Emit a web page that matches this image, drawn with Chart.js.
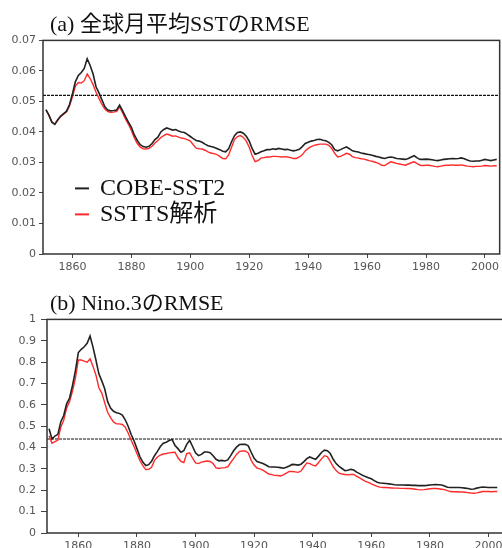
<!DOCTYPE html>
<html>
<head>
<meta charset="utf-8">
<script src="https://cdn.jsdelivr.net/npm/chart.js@4.4.1/dist/chart.umd.min.js"></script>
<style>
  html, body { margin: 0; padding: 0; background: #fff; overflow: hidden; width: 502px; height: 548px; }
  #wrapA { position: absolute; left: 0; top: 0; width: 502px; height: 280px; }
  #wrapB { position: absolute; left: 0; top: 279px; width: 502px; height: 280px; overflow: hidden; }
  canvas { display: block; }
</style>
</head>
<body>
<div id="wrapA"><canvas id="chartA" width="502" height="280"></canvas></div>
<div id="wrapB"><canvas id="chartB" width="506" height="280"></canvas></div>
<script>
// ---- data (a) global monthly mean SST RMSE ----
const titleA = "(a) 全球月平均SSTのRMSE";
const yearsA = [
  1851, 1852, 1853, 1854, 1855, 1856, 1857, 1858, 1859, 1860,
  1861, 1862, 1863, 1864, 1865, 1866, 1867, 1868, 1869, 1870,
  1871, 1872, 1873, 1874, 1875, 1876, 1877, 1878, 1879, 1880,
  1881, 1882, 1883, 1884, 1885, 1886, 1887, 1888, 1889, 1890,
  1891, 1892, 1893, 1894, 1895, 1896, 1897, 1898, 1899, 1900,
  1901, 1902, 1903, 1904, 1905, 1906, 1907, 1908, 1909, 1910,
  1911, 1912, 1913, 1914, 1915, 1916, 1917, 1918, 1919, 1920,
  1921, 1922, 1923, 1924, 1925, 1926, 1927, 1928, 1929, 1930,
  1931, 1932, 1933, 1934, 1935, 1936, 1937, 1938, 1939, 1940,
  1941, 1942, 1943, 1944, 1945, 1946, 1947, 1948, 1949, 1950,
  1951, 1952, 1953, 1954, 1955, 1956, 1957, 1958, 1959, 1960,
  1961, 1962, 1963, 1964, 1965, 1966, 1967, 1968, 1969, 1970,
  1971, 1972, 1973, 1974, 1975, 1976, 1977, 1978, 1979, 1980,
  1981, 1982, 1983, 1984, 1985, 1986, 1987, 1988, 1989, 1990,
  1991, 1992, 1993, 1994, 1995, 1996, 1997, 1998, 1999, 2000,
  2001, 2002, 2003, 2004,
];
const cobeA = [
  0.0473, 0.0455, 0.0432, 0.0425, 0.0440, 0.0452, 0.0460, 0.0468, 0.0490, 0.0525,
  0.0565, 0.0585, 0.0595, 0.0608, 0.0640, 0.0618, 0.0590, 0.0548, 0.0528, 0.0505,
  0.0482, 0.0472, 0.0469, 0.0470, 0.0472, 0.0488, 0.0470, 0.0450, 0.0432, 0.0415,
  0.0390, 0.0372, 0.0358, 0.0352, 0.0350, 0.0353, 0.0362, 0.0375, 0.0383, 0.0400,
  0.0408, 0.0413, 0.0410, 0.0406, 0.0408, 0.0403, 0.0400, 0.0398, 0.0392, 0.0385,
  0.0378, 0.0372, 0.0370, 0.0366, 0.0360, 0.0355, 0.0352, 0.0350, 0.0346, 0.0342,
  0.0337, 0.0335, 0.0345, 0.0368, 0.0388, 0.0398, 0.0400, 0.0396, 0.0386, 0.0370,
  0.0345, 0.0327, 0.0330, 0.0335, 0.0338, 0.0342, 0.0342, 0.0345, 0.0343, 0.0346,
  0.0344, 0.0342, 0.0343, 0.0340, 0.0338, 0.0340, 0.0343, 0.0352, 0.0362, 0.0366,
  0.0370, 0.0372, 0.0375, 0.0376, 0.0373, 0.0371, 0.0366, 0.0358, 0.0342, 0.0338,
  0.0342, 0.0347, 0.0351, 0.0345, 0.0338, 0.0336, 0.0334, 0.0331, 0.0329, 0.0327,
  0.0325, 0.0323, 0.0320, 0.0318, 0.0315, 0.0313, 0.0316, 0.0318, 0.0316, 0.0313,
  0.0312, 0.0311, 0.0310, 0.0313, 0.0318, 0.0322, 0.0315, 0.0310, 0.0310, 0.0311,
  0.0310, 0.0309, 0.0307, 0.0306, 0.0308, 0.0310, 0.0311, 0.0312, 0.0313, 0.0312,
  0.0313, 0.0315, 0.0312, 0.0308, 0.0305, 0.0304, 0.0305, 0.0305, 0.0307, 0.0310,
  0.0308, 0.0306, 0.0308, 0.0310,
];
const ssttsA = [
  0.0472, 0.0455, 0.0433, 0.0426, 0.0438, 0.0450, 0.0458, 0.0466, 0.0485, 0.0515,
  0.0550, 0.0562, 0.0560, 0.0568, 0.0590, 0.0575, 0.0555, 0.0530, 0.0510, 0.0490,
  0.0475, 0.0467, 0.0464, 0.0465, 0.0467, 0.0482, 0.0463, 0.0443, 0.0425, 0.0405,
  0.0380, 0.0362, 0.0350, 0.0345, 0.0344, 0.0346, 0.0353, 0.0364, 0.0372, 0.0382,
  0.0388, 0.0393, 0.0390, 0.0386, 0.0387, 0.0383, 0.0380, 0.0378, 0.0375, 0.0370,
  0.0358, 0.0347, 0.0345, 0.0344, 0.0340, 0.0335, 0.0331, 0.0329, 0.0326, 0.0320,
  0.0313, 0.0312, 0.0325, 0.0350, 0.0375, 0.0385, 0.0388, 0.0382, 0.0370, 0.0350,
  0.0322, 0.0303, 0.0306, 0.0314, 0.0316, 0.0318, 0.0318, 0.0320, 0.0320, 0.0319,
  0.0318, 0.0319, 0.0318, 0.0316, 0.0313, 0.0313, 0.0318, 0.0325, 0.0338, 0.0346,
  0.0352, 0.0356, 0.0358, 0.0360, 0.0360, 0.0360, 0.0356, 0.0346, 0.0330, 0.0318,
  0.0320, 0.0325, 0.0330, 0.0327, 0.0319, 0.0316, 0.0314, 0.0312, 0.0311, 0.0308,
  0.0305, 0.0303, 0.0300, 0.0296, 0.0291, 0.0290, 0.0296, 0.0302, 0.0300, 0.0297,
  0.0295, 0.0293, 0.0291, 0.0295, 0.0299, 0.0302, 0.0296, 0.0291, 0.0290, 0.0291,
  0.0291, 0.0289, 0.0287, 0.0286, 0.0288, 0.0290, 0.0291, 0.0291, 0.0292, 0.0291,
  0.0291, 0.0292, 0.0290, 0.0288, 0.0287, 0.0286, 0.0287, 0.0287, 0.0288, 0.0290,
  0.0289, 0.0288, 0.0289, 0.0289,
];
const thresholdA = 0.052;
const yTicksA = [0, 0.01, 0.02, 0.03, 0.04, 0.05, 0.06, 0.07];

// ---- data (b) Nino.3 RMSE ----
const titleB = "(b) Nino.3のRMSE";
const yearsB = [
  1850, 1851, 1852, 1853, 1854, 1855, 1856, 1857, 1858, 1859,
  1860, 1861, 1862, 1863, 1864, 1865, 1866, 1867, 1868, 1869,
  1870, 1871, 1872, 1873, 1874, 1875, 1876, 1877, 1878, 1879,
  1880, 1881, 1882, 1883, 1884, 1885, 1886, 1887, 1888, 1889,
  1890, 1891, 1892, 1893, 1894, 1895, 1896, 1897, 1898, 1899,
  1900, 1901, 1902, 1903, 1904, 1905, 1906, 1907, 1908, 1909,
  1910, 1911, 1912, 1913, 1914, 1915, 1916, 1917, 1918, 1919,
  1920, 1921, 1922, 1923, 1924, 1925, 1926, 1927, 1928, 1929,
  1930, 1931, 1932, 1933, 1934, 1935, 1936, 1937, 1938, 1939,
  1940, 1941, 1942, 1943, 1944, 1945, 1946, 1947, 1948, 1949,
  1950, 1951, 1952, 1953, 1954, 1955, 1956, 1957, 1958, 1959,
  1960, 1961, 1962, 1963, 1964, 1965, 1966, 1967, 1968, 1969,
  1970, 1971, 1972, 1973, 1974, 1975, 1976, 1977, 1978, 1979,
  1980, 1981, 1982, 1983, 1984, 1985, 1986, 1987, 1988, 1989,
  1990, 1991, 1992, 1993, 1994, 1995, 1996, 1997, 1998, 1999,
  2000, 2001, 2002, 2003,
];
const cobeB = [
  0.488, 0.440, 0.454, 0.462, 0.520, 0.550, 0.605, 0.632, 0.690, 0.760,
  0.845, 0.860, 0.872, 0.888, 0.922, 0.870, 0.810, 0.745, 0.712, 0.675,
  0.615, 0.585, 0.570, 0.563, 0.560, 0.552, 0.530, 0.500, 0.462, 0.432,
  0.395, 0.358, 0.332, 0.316, 0.320, 0.336, 0.362, 0.382, 0.405, 0.420,
  0.425, 0.433, 0.438, 0.410, 0.395, 0.378, 0.385, 0.415, 0.434, 0.405,
  0.375, 0.362, 0.368, 0.379, 0.379, 0.376, 0.362, 0.345, 0.338, 0.340,
  0.337, 0.342, 0.362, 0.385, 0.402, 0.414, 0.415, 0.415, 0.408, 0.378,
  0.350, 0.335, 0.330, 0.325, 0.318, 0.310, 0.309, 0.309, 0.308, 0.306,
  0.303, 0.308, 0.314, 0.321, 0.320, 0.318, 0.322, 0.334, 0.348, 0.356,
  0.350, 0.345, 0.360, 0.377, 0.388, 0.385, 0.372, 0.345, 0.325, 0.312,
  0.302, 0.292, 0.294, 0.298, 0.295, 0.285, 0.278, 0.270, 0.264, 0.259,
  0.254, 0.245, 0.238, 0.234, 0.233, 0.232, 0.230, 0.228, 0.226, 0.225,
  0.225, 0.225, 0.224, 0.224, 0.223, 0.223, 0.222, 0.222, 0.222, 0.223,
  0.225, 0.226, 0.227, 0.226, 0.225, 0.220, 0.214, 0.213, 0.213, 0.213,
  0.213, 0.212, 0.210, 0.208, 0.205, 0.206, 0.210, 0.213, 0.215, 0.214,
  0.213, 0.213, 0.213, 0.213,
];
const ssttsB = [
  0.455, 0.420, 0.428, 0.434, 0.495, 0.528, 0.585, 0.615, 0.665, 0.725,
  0.810, 0.810, 0.805, 0.800, 0.815, 0.780, 0.740, 0.680, 0.655, 0.610,
  0.565, 0.540, 0.520, 0.511, 0.511, 0.508, 0.495, 0.468, 0.435, 0.405,
  0.372, 0.340, 0.315, 0.297, 0.298, 0.308, 0.340, 0.356, 0.365, 0.370,
  0.372, 0.375, 0.377, 0.378, 0.352, 0.335, 0.330, 0.372, 0.375, 0.350,
  0.328, 0.325, 0.332, 0.335, 0.337, 0.335, 0.325, 0.305, 0.302, 0.305,
  0.306, 0.310, 0.330, 0.348, 0.368, 0.382, 0.384, 0.384, 0.375, 0.340,
  0.318, 0.304, 0.300, 0.294, 0.285, 0.276, 0.273, 0.270, 0.269, 0.267,
  0.272, 0.280, 0.288, 0.288, 0.286, 0.284, 0.290, 0.310, 0.328, 0.325,
  0.318, 0.314, 0.330, 0.347, 0.362, 0.358, 0.335, 0.310, 0.292, 0.280,
  0.276, 0.274, 0.272, 0.274, 0.274, 0.265, 0.258, 0.250, 0.242, 0.237,
  0.230, 0.224, 0.218, 0.215, 0.213, 0.213, 0.212, 0.211, 0.210, 0.210,
  0.209, 0.209, 0.208, 0.208, 0.207, 0.205, 0.203, 0.202, 0.203, 0.205,
  0.207, 0.208, 0.208, 0.207, 0.205, 0.203, 0.198, 0.194, 0.193, 0.193,
  0.192, 0.192, 0.191, 0.189, 0.187, 0.186, 0.188, 0.191, 0.194, 0.194,
  0.194, 0.193, 0.194, 0.194,
];
const thresholdB = 0.44;
const yTicksB = [0, 0.1, 0.2, 0.3, 0.4, 0.5, 0.6, 0.7, 0.8, 0.9, 1];

const xTickYears = [1860, 1880, 1900, 1920, 1940, 1960, 1980, 2000];
const seriesNames = ["COBE-SST2", "SSTTS解析"];
const seriesColors = ["#222222", "#ff2b2b"];

// box round the plot area
const framePlugin = {
  id: "frame",
  afterDraw(chart) {
    const { ctx, chartArea: a } = chart;
    ctx.save();
    ctx.strokeStyle = "#333";
    ctx.lineWidth = 1.5;
    ctx.strokeRect(a.left, a.top, a.right - a.left, a.bottom - a.top);
    ctx.restore();
  },
};

// title sits a little right of the plot's left edge
const titleShift = {
  id: "titleShift",
  afterLayout(chart, args, opts) {
    const dx = opts.dx || 0;
    if (chart.titleBlock) {
      chart.titleBlock.left += dx;
      chart.titleBlock.right += dx;
    }
  },
};

// legend drawn inside the plot area
const insideLegend = {
  id: "insideLegend",
  afterDatasetsDraw(chart, args, opts) {
    if (!opts.show) return;
    const { ctx, chartArea: a } = chart;
    ctx.save();
    ctx.font = opts.font;
    ctx.textBaseline = "middle";
    let y = a.top + opts.top;
    chart.data.datasets.forEach((ds) => {
      if (!ds.label) return;
      const x0 = a.left + opts.left;
      ctx.strokeStyle = ds.borderColor;
      ctx.lineWidth = 2;
      ctx.beginPath();
      ctx.moveTo(x0, y);
      ctx.lineTo(x0 + 14, y);
      ctx.stroke();
      ctx.fillStyle = "#111";
      ctx.fillText(ds.label, x0 + 25, y);
      y += opts.step;
    });
    ctx.restore();
  },
};

function makeChart(id, cfg) {
  const pts = (vals) => cfg.years.map((yr, i) => ({ x: yr, y: vals[i] }));
  return new Chart(document.getElementById(id), {
    type: "line",
    data: {
      datasets: [
        {
          label: seriesNames[0],
          data: pts(cfg.cobe),
          borderColor: seriesColors[0],
          borderWidth: 1.6,
          pointRadius: 0,
          tension: 0,
        },
        {
          label: seriesNames[1],
          data: pts(cfg.sstts),
          borderColor: seriesColors[1],
          borderWidth: 1.4,
          pointRadius: 0,
          tension: 0,
        },
        {
          data: [
            { x: cfg.xMin, y: cfg.threshold },
            { x: cfg.xMax, y: cfg.threshold },
          ],
          borderColor: "#111",
          borderWidth: 1.2,
          borderDash: [3, 1],
          pointRadius: 0,
        },
      ],
    },
    options: {
      responsive: false,
      animation: false,
      layout: { padding: { left: 0, right: cfg.padRight, top: 0, bottom: 0 } },
      plugins: {
        legend: { display: false },
        tooltip: { enabled: false },
        title: {
          display: true,
          text: cfg.title,
          align: "start",
          fullSize: false,
          color: "#111",
          font: { family: '"Liberation Serif", "Noto Sans CJK JP", serif', size: 22, weight: "normal", lineHeight: 1.2 },
          padding: { top: 12, bottom: 2 },
        },
        titleShift: { dx: cfg.titleDx },
        insideLegend: cfg.legend,
      },
      scales: {
        x: {
          type: "linear",
          min: cfg.xMin,
          max: cfg.xMax,
          afterBuildTicks: (s) => {
            s.ticks = xTickYears.map((v) => ({ value: v }));
          },
          afterFit: (s) => {
            s.height = 26;
          },
          ticks: {
            autoSkip: false,
            maxRotation: 0,
            padding: 3,
            color: "#555",
            font: { family: "DejaVu Sans", size: 11 },
            callback: (v) => String(v),
          },
          grid: { drawOnChartArea: false, drawTicks: true, tickLength: 4, color: "#444" },
          border: { display: false },
        },
        y: {
          type: "linear",
          min: cfg.yTicks[0],
          max: cfg.yTicks[cfg.yTicks.length - 1],
          afterBuildTicks: (s) => {
            s.ticks = cfg.yTicks.map((v) => ({ value: v }));
          },
          afterFit: (s) => {
            s.width = cfg.yWidth;
          },
          ticks: {
            autoSkip: false,
            padding: cfg.yPad,
            color: "#555",
            font: { family: "DejaVu Sans", size: 11 },
            callback: (v) => String(v),
          },
          grid: { drawOnChartArea: false, drawTicks: true, tickLength: cfg.yTick, color: "#444" },
          border: { display: false },
        },
      },
    },
    plugins: [framePlugin, titleShift, insideLegend],
  });
}

makeChart("chartA", {
  title: titleA,
  years: yearsA,
  cobe: cobeA,
  sstts: ssttsA,
  threshold: thresholdA,
  yTicks: yTicksA,
  xMin: 1850,
  xMax: 2005,
  yWidth: 43,
  yTick: 4,
  yPad: 3,
  padRight: 2,
  titleDx: 7,
  legend: { show: true, left: 32, top: 148, step: 26, font: '24px "Liberation Serif", "Noto Sans CJK JP", serif' },
});

makeChart("chartB", {
  title: titleB,
  years: yearsB,
  cobe: cobeB,
  sstts: ssttsB,
  threshold: thresholdB,
  yTicks: yTicksB,
  xMin: 1849.3,
  xMax: 2005.3,
  yWidth: 47,
  yTick: 6,
  yPad: 5,
  padRight: 2,
  titleDx: 3,
  legend: { show: false },
});
</script>
</body>
</html>
